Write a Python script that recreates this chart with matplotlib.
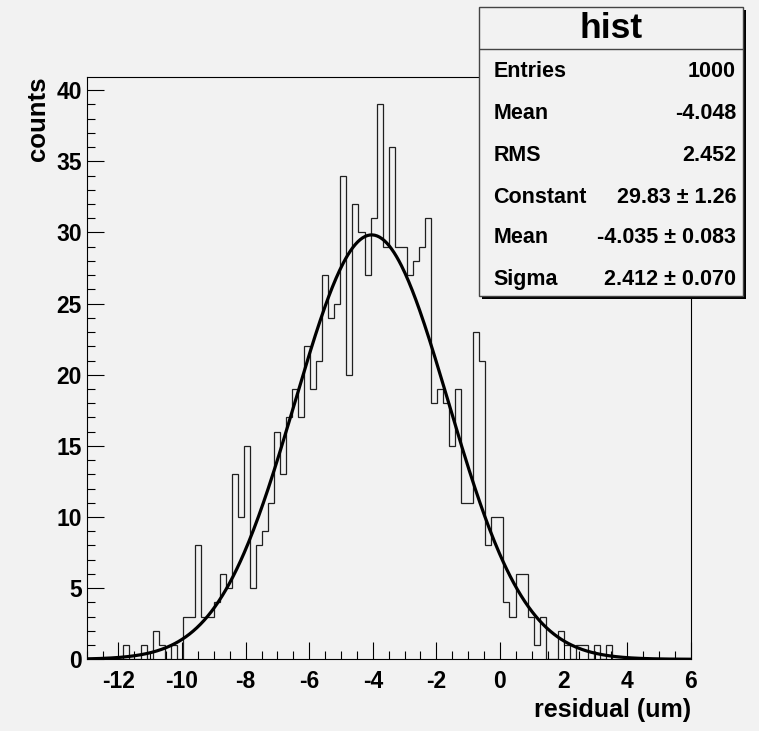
import numpy as np
import matplotlib
matplotlib.use('Agg')
import matplotlib.pyplot as plt
from matplotlib.patches import Rectangle
from matplotlib.ticker import MultipleLocator

plt.rcParams['font.family'] = ['Liberation Sans', 'DejaVu Sans']
plt.rcParams['font.weight'] = 'bold'
plt.rcParams['axes.unicode_minus'] = False

# histogram: 100 bins from -13 to 6
x_lo, x_hi, n_bins = -13.0, 6.0, 100
counts = [0, 0, 0, 0, 0, 0, 1, 0, 0, 1,
          0, 2, 1, 0, 1, 0, 3, 3, 8, 3,
          3, 4, 6, 5, 13, 10, 15, 5, 8, 9,
          11, 16, 13, 17, 19, 17, 22, 19, 21, 27,
          24, 25, 34, 20, 32, 30, 27, 31, 39, 29,
          36, 29, 29, 27, 28, 29, 31, 18, 19, 18,
          15, 19, 11, 11, 23, 21, 8, 10, 10, 4,
          3, 6, 6, 3, 1, 3, 0, 0, 2, 1,
          0, 1, 1, 0, 1, 0, 1, 0, 0, 0,
          0, 0, 0, 0, 0, 0, 0, 0, 0, 0]

# gaussian fit parameters (from the stats box)
fit_const, fit_mean, fit_sigma = 29.83, -4.035, 2.412

stat_names = ['Entries', 'Mean', 'RMS', 'Constant', 'Mean', 'Sigma']
stat_values = ['1000', '-4.048', '2.452', '29.83 \u00b1 1.26',
               '-4.035 \u00b1 0.083', '2.412 \u00b1 0.070']

bg = '#f2f2f2'
fig = plt.figure(figsize=(7.59, 7.31), dpi=100)
fig.patch.set_facecolor(bg)

ax = fig.add_axes([0.1142, 0.0981, 0.7958, 0.797])
ax.set_facecolor(bg)

edges = np.linspace(x_lo, x_hi, n_bins + 1)
ax.stairs(counts, edges, color='#202020', linewidth=0.9)

xf = np.linspace(x_lo, x_hi, 500)
yf = fit_const * np.exp(-0.5 * ((xf - fit_mean) / fit_sigma) ** 2)
ax.plot(xf, yf, color='black', linewidth=2.3)

ax.set_xlim(x_lo, x_hi)
ax.set_ylim(0, 1.05 * max(counts))
ax.xaxis.set_major_locator(MultipleLocator(2))
ax.xaxis.set_minor_locator(MultipleLocator(0.5))
ax.yaxis.set_major_locator(MultipleLocator(5))
ax.yaxis.set_minor_locator(MultipleLocator(1))
ax.tick_params(which='both', direction='in', top=False, right=False, width=0.8, labelsize=16.5)
ax.tick_params(which='major', length=12)
ax.tick_params(which='minor', length=6)
ax.tick_params(axis='x', pad=8)
ax.tick_params(axis='y', pad=3.5)
for sp in ax.spines.values():
    sp.set_linewidth(0.8)

ax.set_xlabel('residual (um)', loc='right', fontsize=18, fontweight='bold')
ax.xaxis.set_label_coords(1.0, -0.066)
ax.set_ylabel('counts', loc='top', fontsize=18.5, fontweight='bold')
ax.yaxis.set_label_coords(-0.061, 1.0)

# stats box
sb = fig.add_axes([0.6307, 0.5944, 0.3478, 0.3964])
sb.set_xlim(0, 1)
sb.set_ylim(0, 1)
sb.axis('off')
sb.add_patch(Rectangle((0.011, -0.010), 1, 1, facecolor='black', edgecolor='none', clip_on=False))
sb.add_patch(Rectangle((0, 0), 1, 1, facecolor=bg, edgecolor='#444444', linewidth=1, clip_on=False))
sb.plot([0, 1], [0.853, 0.853], color='#444444', linewidth=1)
sb.text(0.5, 0.926, 'hist', ha='center', va='center', fontsize=25.5, fontweight='bold')
row_y = [0.776, 0.630, 0.488, 0.343, 0.202, 0.060]
for name, val, yy in zip(stat_names, stat_values, row_y):
    sb.text(0.055, yy, name, ha='left', va='center', fontsize=15.5, fontweight='bold')
    sb.text(0.975, yy, val, ha='right', va='center', fontsize=15.5, fontweight='bold')

fig.savefig('out.png', dpi=100, facecolor=bg)
